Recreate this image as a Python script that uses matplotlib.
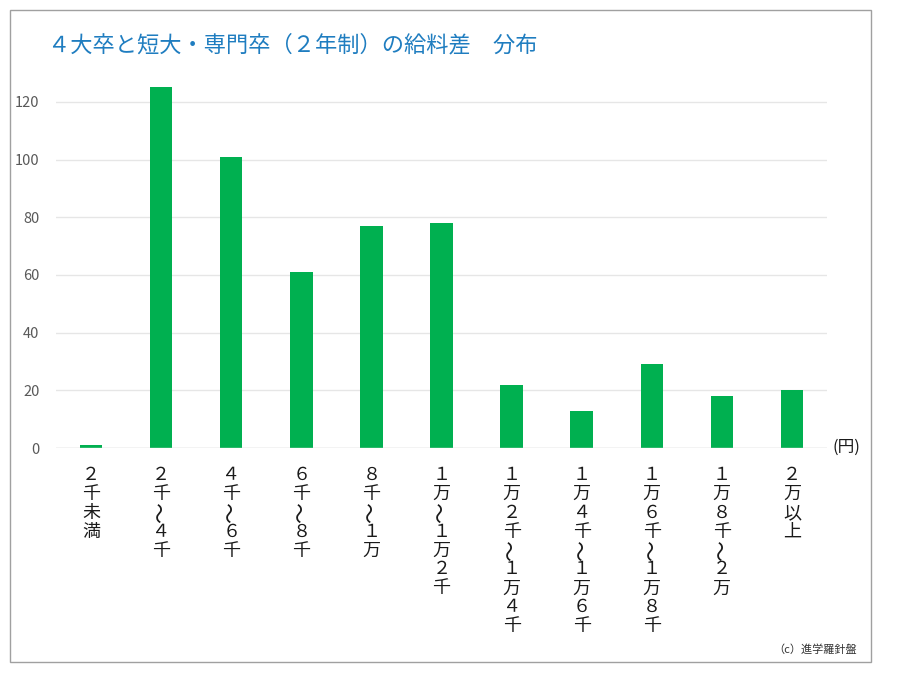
import matplotlib
matplotlib.use('Agg')
import matplotlib.pyplot as plt
from matplotlib.patches import Rectangle
from matplotlib.transforms import offset_copy

plt.rcParams['font.family'] = ['Noto Sans CJK JP', 'DejaVu Sans']

categories = ['２千未満', '２千〜４千', '４千〜６千', '６千〜８千', '８千〜１万',
              '１万〜１万２千', '１万２千〜１万４千', '１万４千〜１万６千',
              '１万６千〜１万８千', '１万８千〜２万', '２万以上']
counts = [1, 125, 101, 61, 77, 78, 22, 13, 29, 18, 20]
yticks = [0, 20, 40, 60, 80, 100, 120]

title = '４大卒と短大・専門卒（２年制）の給料差　分布'

fig = plt.figure(figsize=(9, 6.75), dpi=100)
fig.patches.append(Rectangle((10 / 900, 1 - 662 / 675), 861 / 900, 652 / 675,
                             transform=fig.transFigure, fill=False,
                             edgecolor='#a0a0a0', linewidth=1))

ax = fig.add_axes([56 / 900, 1 - 448 / 675, 771 / 900, 375 / 675])
x = list(range(len(categories)))
ax.bar(x, counts, width=0.32, color='#00b050', zorder=3)
ax.set_xlim(-0.5, len(categories) - 0.5)
ax.set_ylim(0, 130)
ax.set_yticks(yticks)
ax.tick_params(axis='y', length=0, labelsize=10.5, labelcolor='#595959', pad=12)
ax.grid(axis='y', color='#e6e6e6', linewidth=1, zorder=0)
for s in ax.spines.values():
    s.set_visible(False)
ax.axhline(0, color='#d9d9d9', linewidth=1, zorder=4)

# vertical category labels: one character per line, wave dash turned upright
ax.set_xticks(x)
ax.set_xticklabels([])
ax.tick_params(axis='x', length=0)
for i, label in enumerate(categories):
    for j, ch in enumerate(label):
        tr = offset_copy(ax.get_xaxis_transform(), fig=fig, x=0,
                         y=-(27 + j * 18.9), units='dots')
        ax.text(i, 0, ch, transform=tr, ha='center', va='center',
                rotation=90 if ch == '〜' else 0,
                fontsize=15 if ch == '〜' else 13,
                color='#1a1a1a', clip_on=False)

fig.text(48 / 900, 1 - 45 / 675, title, fontsize=16, color='#1f7dc0',
         va='center', ha='left')
fig.text(832 / 900, 1 - 447 / 675, '(円)', fontsize=12, color='#1a1a1a',
         va='center', ha='left')
fig.text(857 / 900, 1 - 650 / 675, '（c）進学羅針盤', fontsize=8, color='#333333',
         va='center', ha='right')

fig.savefig('out.png', dpi=100)
